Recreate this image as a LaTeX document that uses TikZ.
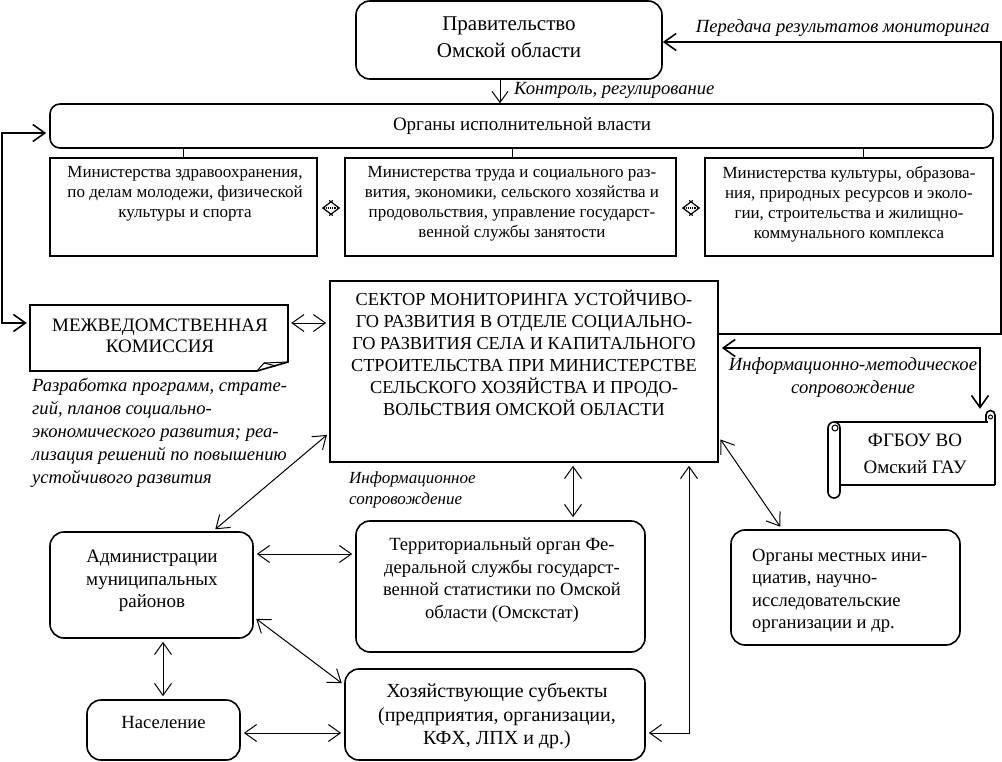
\documentclass[tikz,border=0pt]{standalone}
\usepackage{fontspec}
\setmainfont{Liberation Serif}
\usetikzlibrary{arrows.meta}
\newcommand{\fgov}{\fontsize{21}{27}\selectfont}
\newcommand{\forg}{\fontsize{19}{22}\selectfont}
\newcommand{\fmin}{\fontsize{17}{20}\selectfont}
\newcommand{\fsec}{\fontsize{18.3}{22}\selectfont}
\newcommand{\fmez}{\fontsize{19}{21}\selectfont}
\newcommand{\flow}{\fontsize{18.6}{22.5}\selectfont}
\newcommand{\fit}{\fontsize{18.6}{23}\selectfont\itshape}
\newcommand{\fits}{\fontsize{17}{21}\selectfont\itshape}
\tikzset{
  box/.style={draw, line width=1.6pt, inner sep=0pt},
  rbox/.style={box, rounded corners=14pt},
  txt/.style={inner sep=0pt, align=center},
  conn/.style={line width=1pt, {Straight Barb[length=12pt,width=17pt]}-{Straight Barb[length=12pt,width=17pt]}, shorten <=3pt, shorten >=3pt},
  tconn/.style={line width=1.6pt, {Straight Barb[length=12pt,width=17pt]}-{Straight Barb[length=12pt,width=17pt]}, shorten <=3pt, shorten >=3pt},
  arr/.style={line width=1pt, -{Straight Barb[length=11pt,width=16pt]}},
  tarr/.style={line width=1.6pt, -{Straight Barb[length=12pt,width=17pt]}},
  dconn/.style={line width=1.2pt, densely dotted, {Straight Barb[length=10pt,width=15pt]}-{Straight Barb[length=10pt,width=15pt]}},
}
\begin{document}
\begin{tikzpicture}[x=1pt,y=-1pt]
\useasboundingbox (0,0) rectangle (1002,762);

% Government
\node (gov) [rbox, minimum width=306pt, minimum height=78pt] at (509,40) {};
\node (govt) [txt, font=\fgov] at (509,37) {Правительство\\Омской области};

% Executive bodies
\node (org) [box, rounded corners=10pt, minimum width=943pt, minimum height=44pt] at (521.5,126) {};
\node (orgt) [txt, font=\forg] at (522,126) {Органы исполнительной власти};

% Ministries
\node (m1) [box, minimum width=267pt, minimum height=98pt] at (183.5,207) {};
\node (m1t) [txt, font=\fmin, anchor=north] at (185,166) {Министерства здравоохранения,\\по делам молодежи, физической\\культуры и спорта};
\node (m2) [box, minimum width=331pt, minimum height=98pt] at (510.5,207) {};
\node (m2t) [txt, font=\fmin, anchor=north] at (512,166) {Министерства труда и социального раз-\\вития, экономики, сельского хозяйства и\\продовольствия, управление государст-\\венной службы занятости};
\node (m3) [box, minimum width=288pt, minimum height=98pt] at (849,207) {};
\node (m3t) [txt, font=\fmin, anchor=north] at (849,166) {Министерства культуры, образова-\\ния, природных ресурсов и эколо-\\гии, строительства и жилищно-\\коммунального комплекса};

% Interdepartmental commission (document shape)
\node (mezh) [inner sep=0pt, minimum width=258pt, minimum height=66pt] at (159,338) {};
\draw[line width=1.6pt] (257,371) -- (30,371) -- (30,305) -- (288,305) -- (288,362) -- (257,371);
\draw[line width=1pt] (257,371) -- (264,363) -- (288,362);
\draw[line width=1pt] (264,363) -- (276,366);
\node (mezht) [txt, font=\fmez] at (160,336) {МЕЖВЕДОМСТВЕННАЯ\\КОМИССИЯ};

% Italic label under commission
\node (devt) [inner sep=0pt, align=left, anchor=north west, font=\fit] at (32,378) {Разработка программ, страте-\\гий, планов социально-\\экономического развития; реа-\\лизация решений по повышению\\устойчивого развития};

% Sector
\node (sector) [box, minimum width=388pt, minimum height=181pt] at (524,371.5) {};
\node (sectort) [txt, font=\fsec, anchor=north] at (524,290) {СЕКТОР МОНИТОРИНГА УСТОЙЧИВО-\\ГО РАЗВИТИЯ В ОТДЕЛЕ СОЦИАЛЬНО-\\ГО РАЗВИТИЯ СЕЛА И КАПИТАЛЬНОГО\\СТРОИТЕЛЬСТВА ПРИ МИНИСТЕРСТВЕ\\СЕЛЬСКОГО ХОЗЯЙСТВА И ПРОДО-\\ВОЛЬСТВИЯ ОМСКОЙ ОБЛАСТИ};

% FGBOU scroll
\node (fgbou) [inner sep=0pt, minimum width=165pt, minimum height=90pt] at (912,455) {};
\draw[line width=1.6pt] (834,422) -- (988,422);
\draw[line width=1.6pt] (840,485) -- (995,485);
\draw[line width=1.6pt] (995,485) -- (995,415) arc(0:-180:4.5) -- (986,422);
\draw[line width=1pt] (990.5,417) circle (2);
\draw[line width=1.6pt] (828,428) arc(180:360:6) -- (840,492) arc(0:180:6) -- cycle;
\draw[line width=1pt] (835,428) circle (3);
\node (fgbout) [txt, font=\fontsize{19}{27}\selectfont] at (915,454) {ФГБОУ ВО\\Омский ГАУ};

% Lower boxes
\node (adm) [rbox, minimum width=203pt, minimum height=106pt] at (151.5,585) {};
\node (admt) [txt, font=\fontsize{19}{22.5}\selectfont] at (152,581) {Администрации\\муниципальных\\районов};
\node (terr) [rbox, minimum width=289pt, minimum height=131pt] at (500.5,586.5) {};
\node (terrt) [txt, font=\flow, anchor=north] at (502,538) {Территориальный орган Фе-\\деральной службы государст-\\венной статистики по Омской\\области (Омскстат)};
\node (nas) [rbox, minimum width=153pt, minimum height=60pt] at (163.5,730) {};
\node (nast) [txt, font=\flow] at (163.5,722) {Население};
\node (hoz) [rbox, minimum width=300pt, minimum height=91pt] at (495,714.5) {};
\node (hozt) [txt, font=\fontsize{20}{23.5}\selectfont] at (497,716) {Хозяйствующие субъекты\\(предприятия, организации,\\КФХ, ЛПХ и др.)};
\node (mest) [rbox, minimum width=229pt, minimum height=115pt] at (845.5,587.5) {};
\node (mestt) [inner sep=0pt, align=left, anchor=west, font=\flow] at (752,591) {Органы местных ини-\\циатив, научно-\\исследовательские\\организации и др.};

% Connectors
\draw[arr] ([xshift=-9pt]gov.south) -- ([xshift=-9pt]gov.south |- org.north);
\node (ctrl) [inner sep=0pt, anchor=west, font=\fit] at (514,90) {Контроль, регулирование};

\draw[tarr] ([yshift=37.5pt]sector.east) -- ++(282,0) |- ([yshift=-2pt]gov.east);
\node (pered) [inner sep=0pt, anchor=east, font=\fit] at (990,28) {Передача результатов мониторинга};

\coordinate (L) at (2,126);
\draw[tconn] ([yshift=-7pt]org.west) -- ([yshift=-7pt]L) |- ([yshift=15pt]mezh.west);

\draw[line width=1pt] (m1.north |- org.south) -- (m1.north);
\draw[line width=1pt] ([xshift=1.5pt]m2.north |- org.south) -- ([xshift=1.5pt]m2.north);
\draw[line width=1pt] ([xshift=14pt]m3.north |- org.south) -- ([xshift=14pt]m3.north);

\draw[dconn] ([xshift=4pt,yshift=-1pt]m1.east) -- ([xshift=-4pt,yshift=-1pt]m2.west);
\draw[dconn] ([xshift=5pt,yshift=-1pt]m2.east) -- ([xshift=-4pt,yshift=-1pt]m3.west);

\draw[conn] ([yshift=15pt]mezh.east) -- ([yshift=48.5pt]sector.west);

\draw[tconn, shorten >=1pt] ([yshift=23.5pt]sector.east) -| ([xshift=68pt]fgbou.north);
\node (infm) [txt, font=\fit] at (853,378) {Информационно-методическое\\сопровождение};

\draw[conn] ([xshift=49pt]sector.south) -- ([xshift=49pt]sector.south |- terr.north);
\draw[conn] ([xshift=165pt]sector.south) |- ([yshift=-18.5pt]hoz.east);
\draw[conn] ([yshift=-65.5pt]sector.east) -- ([xshift=-63.5pt]mest.north);
\draw[conn] ([yshift=-61.5pt]sector.west) -- ([xshift=61.5pt]adm.north);
\node (infs) [inner sep=0pt, align=left, anchor=west, font=\fits] at (349,490) {Информационное\\сопровождение};

\draw[conn] ([yshift=31pt]adm.east) -- ([yshift=31pt]adm.east -| terr.west);
\draw[conn] ([yshift=-32pt]adm.east) -- ([yshift=29.5pt]hoz.west);
\draw[conn] ([xshift=11.5pt]adm.south) -- ([xshift=11.5pt]adm.south |- nas.north);
\draw[conn] ([yshift=-3pt]nas.east) -- ([yshift=-3pt]nas.east -| hoz.west);
\end{tikzpicture}
\end{document}
